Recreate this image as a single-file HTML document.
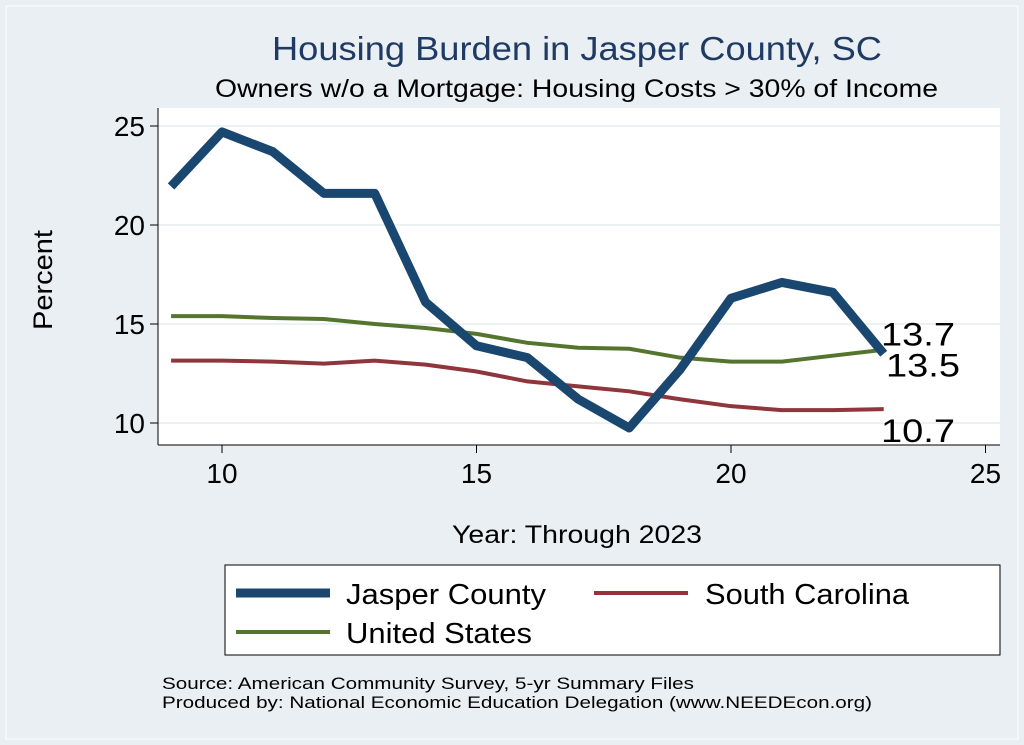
<!DOCTYPE html>
<html><head><meta charset="utf-8"><style>
body{margin:0;background:#e9eff3;font-family:"Liberation Sans",sans-serif}
svg{display:block}
</style></head><body>
<svg width="1024" height="745">
<rect x="0" y="0" width="1024" height="745" fill="#e9eff3"/>
<rect x="6" y="6" width="1012" height="733" fill="none" stroke="#ffffff" stroke-width="1"/>
<text x="272" y="60" textLength="610" lengthAdjust="spacingAndGlyphs" font-size="33" fill="#1f3a63">Housing Burden in Jasper County, SC</text>
<text x="215" y="97" textLength="723" lengthAdjust="spacingAndGlyphs" font-size="25" fill="#000">Owners w/o a Mortgage: Housing Costs &gt; 30% of Income</text>
<rect x="158" y="108" width="842" height="337" fill="#fff"/>
<g id="grid"></g>
<g id="axes"></g>
<g id="series"></g>
<text x="52" y="280" text-anchor="middle" font-size="27" textLength="100" lengthAdjust="spacingAndGlyphs" transform="rotate(-90 52 280)">Percent</text>
<text x="452" y="543" textLength="250" lengthAdjust="spacingAndGlyphs" font-size="25">Year: Through 2023</text>
<rect x="225" y="565" width="775" height="90" fill="#fff" stroke="#000" stroke-width="1"/>
<g><line x1="236" y1="593" x2="330" y2="593" stroke="#1a476f" stroke-width="9"/><text x="346" y="604" font-size="29" textLength="200" lengthAdjust="spacingAndGlyphs">Jasper County</text></g>
<g><line x1="594" y1="593" x2="688" y2="593" stroke="#90353b" stroke-width="4"/><text x="705" y="604" font-size="29" textLength="204" lengthAdjust="spacingAndGlyphs">South Carolina</text></g>
<g><line x1="236" y1="632" x2="330" y2="632" stroke="#55752f" stroke-width="4"/><text x="346" y="643" font-size="29" textLength="186" lengthAdjust="spacingAndGlyphs">United States</text></g>
<text x="162" y="689" font-size="17" textLength="532" lengthAdjust="spacingAndGlyphs">Source: American Community Survey, 5-yr Summary Files</text>
<text x="162" y="708" font-size="17" textLength="710" lengthAdjust="spacingAndGlyphs">Produced by: National Economic Education Delegation (www.NEEDEcon.org)</text>
</svg>
<script>
const years=[9,10,11,12,13,14,15,16,17,18,19,20,21,22,23];
const jasper=[21.95,24.7,23.7,21.6,21.6,16.1,13.9,13.3,11.2,9.75,12.7,16.3,17.1,16.6,13.5];
const southCarolina=[13.15,13.15,13.1,13.0,13.15,12.95,12.6,12.1,11.85,11.6,11.2,10.85,10.65,10.65,10.7];
const unitedStates=[15.4,15.4,15.3,15.25,15.0,14.8,14.5,14.05,13.8,13.75,13.3,13.1,13.1,13.4,13.7];
const xTicks=[10,15,20,25];
const yTicks=[10,15,20,25];
const NS="http://www.w3.org/2000/svg";
const xs=v=>222+(v-10)*50.9;
const ys=v=>423-(v-10)*19.8;
function mk(t,a,p){const e=document.createElementNS(NS,t);for(const k in a)e.setAttribute(k,a[k]);p.appendChild(e);return e;}
const grid=document.getElementById('grid'),axes=document.getElementById('axes'),ser=document.getElementById('series');
yTicks.forEach(t=>{
 const g=mk('line',{x1:158,x2:1000,y1:ys(t),y2:ys(t),stroke:'#eaf2f3','stroke-width':2},grid);
 
 
 const tk=mk('line',{x1:150,x2:158,y1:ys(t),y2:ys(t),stroke:'#000'},axes);
 
 
 const l=mk('text',{x:145,y:ys(t)+10,'text-anchor':'end','font-size':28},axes);l.textContent=t;
 
 
});
mk('line',{x1:158,x2:158,y1:108,y2:445,stroke:'#000'},axes);
mk('line',{x1:158,x2:1000,y1:445,y2:445,stroke:'#000'},axes);
xTicks.forEach(t=>{
 const tk=mk('line',{x1:xs(t),x2:xs(t),y1:445,y2:453,stroke:'#000'},axes);
 
 
 const l=mk('text',{x:xs(t),y:483,'text-anchor':'middle','font-size':28},axes);l.textContent=t;
 
 
});
function line(vals,col,w,name){
 const p=mk('polyline',{points:vals.map((v,i)=>xs(years[i])+','+ys(v)).join(' '),fill:'none',stroke:col,'stroke-width':w,'stroke-linejoin':'round'},ser);
 
 
}
line(southCarolina,'#90353b',4,'line-south-carolina');
line(unitedStates,'#55752f',4,'line-united-states');
line(jasper,'#1a476f',9,'line-jasper-county');
function lab(vals,name,x,dy){
 const v=vals[vals.length-1];
 const t=mk('text',{x:x,y:ys(v)+dy,'font-size':32,textLength:74,lengthAdjust:'spacingAndGlyphs'},ser);t.textContent=v.toFixed(1);
 
 
}
lab(unitedStates,'label-united-states',881,-4);
lab(jasper,'label-jasper-county',886,23);
lab(southCarolina,'label-south-carolina',881,33);
</script>
</body></html>
